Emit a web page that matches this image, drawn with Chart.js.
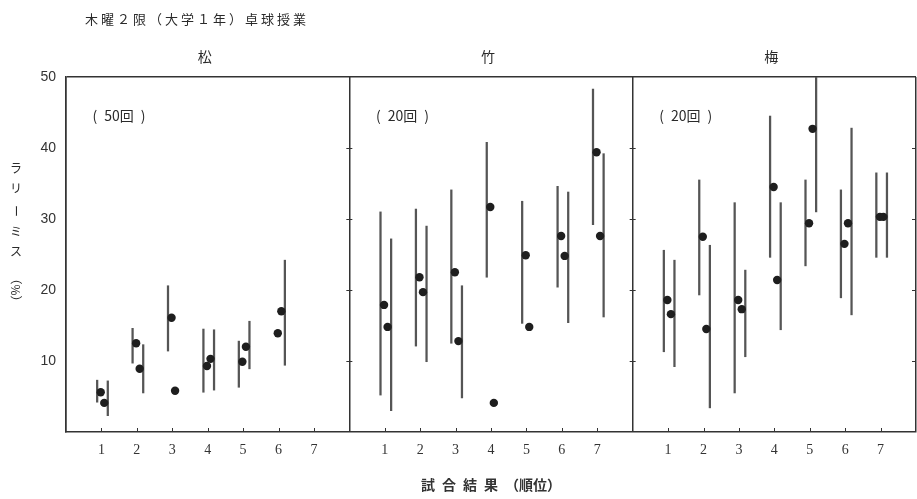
<!DOCTYPE html>
<html>
<head>
<meta charset="utf-8">
<script src="https://cdn.jsdelivr.net/npm/chart.js@4"></script>
<style>
  body { margin: 0; background: #fff; }
</style>
</head>
<body>
<canvas id="myChart" width="917" height="499"></canvas>
<script>
// data
const ranks = [1, 2, 3, 4, 5, 6, 7];
const panelNames = ["松", "竹", "梅"];
const gameCounts = ["(\u200250回\u2002)", "(\u200220回\u2002)", "(\u200220回\u2002)"];
const mainTitle = "木曜２限（大学１年）卓球授業";
const xTitle = "試\u2002合\u2002結\u2002果\u2002（順位）";
const yTicks = [10, 20, 30, 40, 50];

// 松
const matsuA = [5.6, 12.5, 16.1, 9.3, 9.9, 13.9, null];
const matsuALow = [4.2, 9.7, 11.4, 5.6, 6.3, null, null];
const matsuAHigh = [7.3, 14.6, 20.6, 14.5, 12.8, null, null];
const matsuB = [4.1, 8.9, 5.8, 10.3, 12.0, 17.0, null];
const matsuBLow = [2.3, 5.5, null, 5.9, 8.9, 9.4, null];
const matsuBHigh = [7.2, 12.3, null, 14.4, 15.6, 24.2, null];

// 竹
const takeA = [17.9, 21.8, 22.5, 31.7, 24.9, 27.6, 39.4];
const takeALow = [5.2, 12.1, 12.5, 21.8, 15.3, 20.4, 29.2];
const takeAHigh = [31.0, 31.4, 34.1, 40.8, 32.5, 34.6, 48.3];
const takeB = [14.8, 19.7, 12.8, 4.1, 14.8, 24.8, 27.6];
const takeBLow = [3.0, 9.9, 4.8, null, null, 15.4, 16.2];
const takeBHigh = [27.2, 29.0, 20.6, null, null, 33.8, 39.2];

// 梅
const umeA = [18.6, 27.5, 18.6, 34.5, 29.4, 26.5, 30.3];
const umeALow = [11.3, 19.3, 5.5, 24.6, 23.4, 18.9, 24.6];
const umeAHigh = [25.6, 35.5, 32.3, 44.5, 35.5, 34.1, 36.5];
const umeB = [16.6, 14.5, 17.3, 21.4, 42.7, 29.4, 30.3];
const umeBLow = [9.2, 3.4, 10.6, 14.4, 31.0, 16.5, 24.6];
const umeBHigh = [24.2, 26.3, 22.8, 32.3, 50, 42.8, 36.5];

const panels = [
  { a: matsuA, aLow: matsuALow, aHigh: matsuAHigh, b: matsuB, bLow: matsuBLow, bHigh: matsuBHigh },
  { a: takeA, aLow: takeALow, aHigh: takeAHigh, b: takeB, bLow: takeBLow, bHigh: takeBHigh },
  { a: umeA, aLow: umeALow, aHigh: umeAHigh, b: umeB, bLow: umeBLow, bHigh: umeBHigh },
];

// each panel takes 8 units of the x axis
const panelWidth = 8;
const dotShift = [-0.02, 0.08];
const lineShift = [-0.12, 0.18];

function dotPoints(vals, k, dx) {
  return ranks.flatMap((r, i) => vals[i] == null ? [] : [{ x: k * panelWidth + r + dx, y: vals[i] }]);
}
function rangeBars(lo, hi, k, dx) {
  return ranks.flatMap((r, i) => lo[i] == null ? [] : [{ x: k * panelWidth + r + dx, y: [lo[i], hi[i]] }]);
}

let dotsData = [], barsData = [];
panels.forEach((p, k) => {
  dotsData = dotsData.concat(dotPoints(p.a, k, dotShift[0]), dotPoints(p.b, k, dotShift[1]));
  barsData = barsData.concat(rangeBars(p.aLow, p.aHigh, k, lineShift[0]), rangeBars(p.bLow, p.bHigh, k, lineShift[1]));
});

const ink = "#2a2a2a";
const jp = '"Noto Sans CJK JP", sans-serif';

// texts and small inner ticks
const decor = {
  id: "decor",
  afterDraw(chart) {
    const { ctx, chartArea: a, scales: { x, y } } = chart;
    ctx.save();
    ctx.fillStyle = ink;
    ctx.textBaseline = "middle";

    ctx.font = "13px " + jp;
    ctx.letterSpacing = "3px";
    ctx.textAlign = "left";
    ctx.fillText(mainTitle, 85, 19);
    ctx.letterSpacing = "0px";

    panelNames.forEach((name, k) => {
      ctx.font = "14px " + jp;
      ctx.textAlign = "center";
      ctx.fillText(name, x.getPixelForValue(k * panelWidth + 4) - 3, 57);
      ctx.font = "14px " + jp;
      ctx.textAlign = "left";
      ctx.fillText(gameCounts[k], x.getPixelForValue(k * panelWidth + 0.75), y.getPixelForValue(44.6));
    });

    // vertical y title
    ctx.font = "12px " + jp;
    ctx.textAlign = "center";
    const chars = ["ラ", "リ", "ー", "ミ", "ス"];
    const ys = [168, 188, 211, 231, 251];
    chars.forEach((c, i) => {
      if (c === "ー") {
        ctx.save(); ctx.translate(16, ys[i]); ctx.rotate(Math.PI / 2); ctx.fillText(c, 0, 0); ctx.restore();
      } else {
        ctx.fillText(c, 16, ys[i]);
      }
    });
    ctx.save(); ctx.translate(16, 290); ctx.rotate(Math.PI / 2); ctx.fillText("（%）", 0, 0); ctx.restore();

    // ticks on the panel dividers and the bottom axis
    ctx.strokeStyle = "#333";
    ctx.lineWidth = 1;
    ctx.beginPath();
    for (const v of [panelWidth, 2 * panelWidth]) {
      const px = x.getPixelForValue(v);
      for (const t of yTicks.slice(0, 4)) {
        const py = Math.round(y.getPixelForValue(t)) + 0.5;
        ctx.moveTo(px - 3, py); ctx.lineTo(px + 3, py);
      }
    }
    const pxEnd = x.getPixelForValue(3 * panelWidth);
    for (const t of yTicks.slice(0, 4)) {
      const py = Math.round(y.getPixelForValue(t)) + 0.5;
      ctx.moveTo(pxEnd - 4, py); ctx.lineTo(pxEnd, py);
    }
    for (let k = 0; k < 3; k++) {
      for (const r of ranks) {
        const px = Math.round(x.getPixelForValue(k * panelWidth + r)) + 0.5;
        ctx.moveTo(px, a.bottom); ctx.lineTo(px, a.bottom - 4);
      }
    }
    ctx.stroke();
    ctx.restore();
  },
};

let myChart = new Chart(document.getElementById("myChart"), {
  type: "scatter",
  data: {
    datasets: [
      {
        type: "scatter",
        data: dotsData,
        backgroundColor: "#1e1e1e",
        borderWidth: 0,
        pointRadius: 4.2,
        order: 0,
      },
      {
        type: "bar",
        data: barsData,
        backgroundColor: "#555",
        borderWidth: 0,
        barThickness: 1.6,
        grouped: false,
        order: 1,
      },
    ],
  },
  options: {
    responsive: false,
    animation: false,
    layout: { autoPadding: false, padding: { top: 77, right: 1, left: 0, bottom: 0 } },
    plugins: {
      legend: { display: false },
      tooltip: { enabled: false },
    },
    scales: {
      x: {
        type: "linear",
        min: 0,
        max: 3 * panelWidth,
        offset: false,
        ticks: {
          stepSize: 1,
          autoSkip: false,
          maxRotation: 0,
          padding: 10,
          color: "#333",
          font: { family: "Liberation Serif", size: 14 },
          callback: (v) => (v % panelWidth === 0 ? "" : String(v % panelWidth)),
        },
        grid: {
          drawTicks: false,
          offset: false,
          lineWidth: 1.5,
          color: (c) => (c.tick && c.tick.value % panelWidth === 0 ? "#333" : "rgba(0,0,0,0)"),
        },
        border: { color: "#333", width: 1.5 },
        title: {
          display: true,
          text: xTitle,
          color: "#333",
          font: { family: "Noto Sans CJK JP", size: 14, weight: "bold" },
          padding: { top: 4, bottom: 6 },
        },
        afterFit: (s) => { s.height = 67; s.paddingLeft = 0; s.paddingRight = 0; },
      },
      y: {
        min: 0,
        max: 50,
        ticks: {
          stepSize: 10,
          padding: 10,
          color: "#333",
          font: { family: "Liberation Sans", size: 14 },
          callback: (v) => (v === 0 ? "" : v),
        },
        grid: {
          drawTicks: false,
          lineWidth: 1.5,
          color: (c) => (c.tick && c.tick.value === 50 ? "#333" : "rgba(0,0,0,0)"),
        },
        border: { color: "#333", width: 1.5 },
        afterFit: (s) => { s.width = 66; },
      },
    },
  },
  plugins: [decor],
});
</script>
</body>
</html>
